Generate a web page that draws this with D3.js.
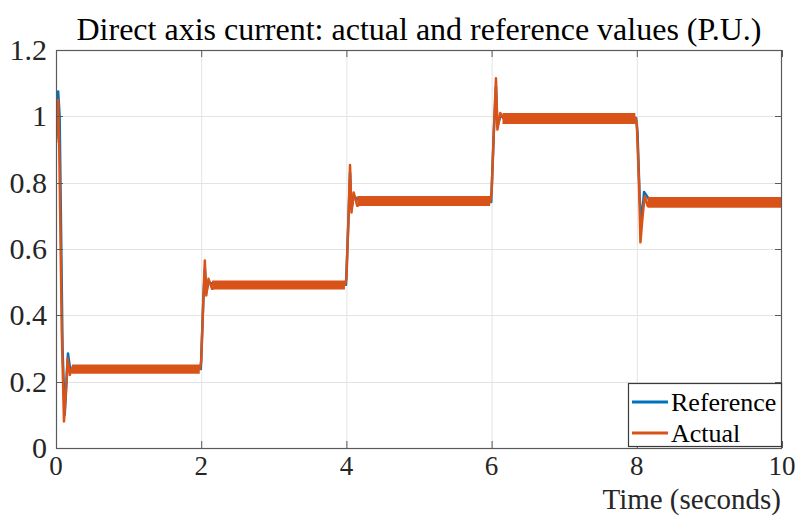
<!DOCTYPE html>
<html>
<head>
<meta charset="utf-8">
<script src="https://cdn.jsdelivr.net/npm/d3@7"></script>
<style>
  html, body { margin: 0; padding: 0; background: #fff; }
  svg { display: block; font-family: "Liberation Serif", "Times New Roman", serif; }
</style>
</head>
<body>
<svg id="chart" width="800" height="516"></svg>
<script>
// Axis ticks
const xTicks = [0, 2, 4, 6, 8, 10];
const yTicks = [0, 0.2, 0.4, 0.6, 0.8, 1, 1.2];

// Reference d-axis current (P.U.)
const refTime  = [0, 0.03, 0.05, 0.09, 0.12, 0.145, 0.165, 0.2, 0.26, 0.35,
                  1.995, 2.03, 2.05, 2.07, 2.1, 2.2,
                  3.995, 4.03, 4.05, 4.07, 4.1, 4.2,
                  5.995, 6.03, 6.06, 6.08, 6.12, 6.2,
                  7.99, 8.01, 8.04, 8.065, 8.1, 8.2, 10];
const refValue = [0.93, 1.075, 1.0, 0.3, 0.1, 0.2, 0.285, 0.23, 0.245, 0.238,
                  0.238, 0.45, 0.54, 0.47, 0.5, 0.492,
                  0.492, 0.7, 0.83, 0.72, 0.76, 0.742,
                  0.742, 0.95, 1.09, 0.97, 1.0, 0.995,
                  0.995, 0.95, 0.75, 0.68, 0.772, 0.74, 0.74];

// Measured d-axis current (P.U.)
const actTime  = [0, 0.03, 0.045, 0.08, 0.11, 0.13, 0.16, 0.19, 0.23, 0.3,
                  1.98, 2.0, 2.03, 2.05, 2.07, 2.1, 2.15, 2.25,
                  3.98, 4.0, 4.03, 4.05, 4.07, 4.1, 4.15, 4.25,
                  5.98, 6.0, 6.03, 6.06, 6.08, 6.12, 6.2, 6.3,
                  7.98, 8.0, 8.03, 8.05, 8.08, 8.11, 8.15, 8.25, 10];
const actValue = [0.92, 1.05, 0.9, 0.35, 0.08, 0.15, 0.27, 0.22, 0.245, 0.238,
                  0.238, 0.26, 0.45, 0.565, 0.46, 0.51, 0.48, 0.492,
                  0.492, 0.51, 0.7, 0.853, 0.71, 0.77, 0.73, 0.742,
                  0.742, 0.77, 0.95, 1.115, 0.96, 1.01, 0.98, 0.995,
                  0.995, 0.98, 0.8, 0.62, 0.7, 0.76, 0.73, 0.74, 0.74];

// Ripple band of the measured current on each plateau
const bandStart = [0.22, 2.15, 4.15, 6.15, 8.15];
const bandEnd   = [1.98, 3.98, 5.98, 7.98, 10];
const bandLow   = [0.224, 0.478, 0.73, 0.977, 0.724];
const bandHigh  = [0.252, 0.505, 0.76, 1.01, 0.757];

const seriesNames  = ["Reference", "Actual"];
const seriesColors = ["#0072BD", "#D95319"];

const svg = d3.select("#chart");
const margin = { left: 56, right: 18, top: 50, bottom: 68 };
const W = 800, H = 516;
const x = d3.scaleLinear().domain([0, 10]).range([margin.left, W - margin.right]);
const y = d3.scaleLinear().domain([0, 1.2]).range([H - margin.bottom, margin.top]);

const x0 = x.range()[0], x1 = x.range()[1];
const y0 = y.range()[0], y1 = y.range()[1];

// grid
const grid = svg.append("g").attr("stroke", "#e3e3e3").attr("stroke-width", 1);
grid.selectAll("line.gx").data(xTicks.slice(1, -1)).join("line")
  .attr("x1", d => x(d) + 0.5).attr("x2", d => x(d) + 0.5).attr("y1", y1).attr("y2", y0);
grid.selectAll("line.gy").data(yTicks.slice(1, -1)).join("line")
  .attr("y1", d => Math.round(y(d)) + 0.5).attr("y2", d => Math.round(y(d)) + 0.5).attr("x1", x0).attr("x2", x1);

svg.append("clipPath").attr("id", "plotClip").append("rect")
  .attr("x", x0).attr("y", y1 - 2).attr("width", x1 - x0).attr("height", y0 - y1 + 2);

const plot = svg.append("g").attr("clip-path", "url(#plotClip)");

const line = d3.line().x(d => x(d[0])).y(d => y(d[1]));

// reference trace
plot.append("path")
  .attr("d", line(refTime.map((t, i) => [t, refValue[i]])))
  .attr("fill", "none").attr("stroke", seriesColors[0]).attr("stroke-width", 2.5)
  .attr("stroke-linejoin", "round");

// measured trace: ripple bands then the main curve
const area = d3.area().x(d => x(d.t)).y0(d => y(d.lo)).y1(d => y(d.hi));
bandStart.forEach((s, i) => {
  plot.append("path")
    .attr("d", area([{ t: s, lo: bandLow[i], hi: bandHigh[i] }, { t: bandEnd[i], lo: bandLow[i], hi: bandHigh[i] }]))
    .attr("fill", seriesColors[1]);
});
plot.append("path")
  .attr("d", line(actTime.map((t, i) => [t, actValue[i]])))
  .attr("fill", "none").attr("stroke", seriesColors[1]).attr("stroke-width", 2.5)
  .attr("stroke-linejoin", "round");

// axes box and inner ticks
const axisColor = "#5a5a5a";
svg.append("rect").attr("x", x0 + 0.5).attr("y", y1 + 0.5).attr("width", x1 - x0 - 1).attr("height", y0 - y1)
  .attr("fill", "none").attr("stroke", axisColor).attr("stroke-width", 1.2);

const tickLen = 7;
const tk = svg.append("g").attr("stroke", axisColor).attr("stroke-width", 1);
xTicks.forEach(d => {
  tk.append("line").attr("x1", x(d) + 0.5).attr("x2", x(d) + 0.5).attr("y1", y0).attr("y2", y0 - tickLen);
  tk.append("line").attr("x1", x(d) + 0.5).attr("x2", x(d) + 0.5).attr("y1", y1).attr("y2", y1 + tickLen);
});
yTicks.forEach(d => {
  tk.append("line").attr("y1", Math.round(y(d)) + 0.5).attr("y2", Math.round(y(d)) + 0.5).attr("x1", x0).attr("x2", x0 + tickLen);
  tk.append("line").attr("y1", Math.round(y(d)) + 0.5).attr("y2", Math.round(y(d)) + 0.5).attr("x1", x1).attr("x2", x1 - tickLen);
});

// tick labels
const fmt = d => d3.format("~g")(d);
svg.append("g").selectAll("text").data(xTicks).join("text")
  .attr("x", d => x(d)).attr("y", y0 + 27)
  .attr("text-anchor", "middle").attr("font-size", 27).attr("fill", "#262626")
  .text(fmt);
svg.append("g").selectAll("text").data(yTicks).join("text")
  .attr("x", x0 - 9).attr("y", d => y(d) + 10)
  .attr("text-anchor", "end").attr("font-size", 30).attr("fill", "#262626")
  .text(fmt);

// axis title
svg.append("text").attr("x", x1 - 1).attr("y", 509)
  .attr("text-anchor", "end").attr("font-size", 29).attr("fill", "#262626")
  .text("Time (seconds)");

// chart title
svg.append("text").attr("x", (x0 + x1) / 2).attr("y", 40)
  .attr("text-anchor", "middle").attr("font-size", 32).attr("fill", "#000")
  .text("Direct axis current: actual and reference values (P.U.)");

// legend
const lg = svg.append("g");
const lx = 628, ly = 383, lw = x1 - 1 - lx, lh = 63;
lg.append("rect").attr("x", lx + 0.5).attr("y", ly + 0.5).attr("width", lw).attr("height", lh)
  .attr("fill", "#fff").attr("stroke", "#3a3a3a").attr("stroke-width", 1.2);
seriesNames.forEach((name, i) => {
  const yy = ly + 19 + i * 31;
  lg.append("line").attr("x1", lx + 4).attr("x2", lx + 40).attr("y1", yy).attr("y2", yy)
    .attr("stroke", seriesColors[i]).attr("stroke-width", 3);
  lg.append("text").attr("x", lx + 43).attr("y", yy + 9)
    .attr("font-size", 26).attr("fill", "#000").text(name);
});
</script>
</body>
</html>
